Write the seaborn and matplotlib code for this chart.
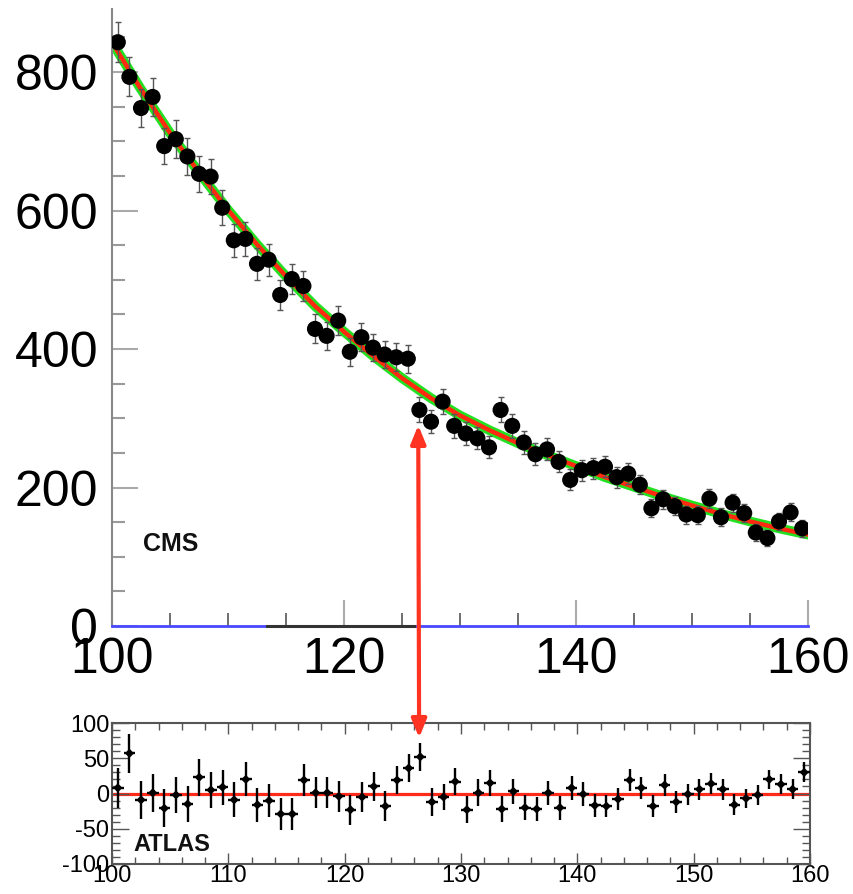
import matplotlib
matplotlib.use("Agg")
import matplotlib.pyplot as plt
from matplotlib.ticker import MultipleLocator, FixedLocator
from matplotlib.patches import ConnectionPatch
import seaborn as sns
import numpy as np

# ---------------- data ----------------
mass = [100.5 + i for i in range(60)]  # bin centres (1 GeV bins)

cms_counts = [843, 793, 748, 764, 693, 703, 678, 653, 649, 604,
              557, 559, 523, 529, 478, 501, 491, 429, 419, 441,
              396, 417, 402, 392, 388, 386, 312, 295, 324, 289,
              278, 271, 258, 312, 289, 265, 248, 255, 237, 211,
              225, 228, 230, 215, 220, 204, 170, 183, 173, 161,
              160, 184, 157, 178, 163, 135, 127, 151, 164, 141]
cms_err = [29, 28, 27, 28, 26, 27, 26, 26, 25, 25,
           24, 24, 23, 23, 22, 22, 22, 21, 20, 21,
           20, 20, 20, 20, 20, 20, 18, 17, 18, 17,
           17, 16, 16, 18, 17, 16, 16, 16, 15, 15,
           15, 15, 15, 15, 15, 14, 13, 14, 13, 13,
           13, 14, 13, 13, 13, 12, 11, 12, 13, 12]

fit_x = [100, 102.5, 105, 107.5, 110, 112.5, 115, 117.5, 120, 122.5,
         125, 127.5, 130, 132.5, 135, 137.5, 140, 142.5, 145, 147.5,
         150, 152.5, 155, 157.5, 160]
fit_y = [843, 775, 712, 655, 601, 551, 505, 462, 425, 390,
         358, 329, 304, 283, 264, 247, 231, 215, 201, 187,
         174, 162, 151, 141, 132]

atlas_res = [8, 57, -9, 1, -21, -2, -15, 23, 5, 9,
             -9, 20, -16, -10, -29, -29, 19, 1, 1, -4,
             -23, -5, 10, -18, 19, 36, 52, -12, -5, 17,
             -23, 1, 15, -22, 3, -20, -22, 1, -20, 8,
             -1, -17, -18, -8, 19, 8, -18, 12, -12, -1,
             6, 14, 6, -16, -7, -2, 20, 13, 6, 30]
atlas_err = [28, 28, 27, 27, 27, 26, 26, 26, 25, 25,
             25, 24, 24, 24, 23, 23, 23, 22, 22, 22,
             21, 21, 21, 21, 20, 20, 20, 20, 19, 19,
             19, 19, 18, 18, 18, 18, 17, 17, 17, 17,
             17, 16, 16, 16, 16, 16, 16, 15, 15, 15,
             15, 15, 15, 15, 14, 14, 14, 14, 14, 14]

top_xticks = [100, 120, 140, 160]
top_yticks = [0, 200, 400, 600, 800]
bot_xticks = [100, 110, 120, 130, 140, 150, 160]
bot_yticks = [-100, -50, 0, 50, 100]
dark_seg_x = [113.4, 126.0]
dark_seg_y = [0, 0]
higgs_mass = 126.4

# ---------------- figure ----------------
plt.rcParams['font.family'] = ['Liberation Sans', 'DejaVu Sans']
W, H = 854, 894
fig = plt.figure(figsize=(W / 100, H / 100), dpi=100)
ax1 = fig.add_axes([112 / W, 1 - 626 / H, (808 - 112) / W, (626 - 9) / H])
ax2 = fig.add_axes([112 / W, 1 - 864 / H, (810 - 112) / W, (864 - 723) / H])

# ---- top panel (CMS) ----
sns.lineplot(x=fit_x, y=fit_y, ax=ax1, color='#22e022', lw=7.0, zorder=2)
sns.lineplot(x=fit_x, y=fit_y, ax=ax1, color='#ff2a10', lw=3.2, zorder=2.5)
ax1.errorbar(mass, cms_counts, yerr=cms_err, fmt='none', ecolor='#555555',
             elinewidth=1.0, capsize=2.5, capthick=1.0, zorder=3)
sns.scatterplot(x=mass, y=cms_counts, ax=ax1, s=135, color='black',
                edgecolor='none', zorder=4)
sns.lineplot(x=dark_seg_x, y=dark_seg_y, ax=ax1, color='#333333', lw=2.2,
             zorder=6, clip_on=False)

ax1.set_xlim(100, 160)
ax1.set_ylim(0, 891)
for s in ['top', 'right']:
    ax1.spines[s].set_visible(False)
ax1.spines['left'].set_color('#888888')
ax1.spines['left'].set_linewidth(1.5)
ax1.spines['bottom'].set_color('#4848ff')
ax1.spines['bottom'].set_linewidth(2.0)
ax1.spines['bottom'].set_zorder(5)

ax1.xaxis.set_major_locator(FixedLocator(top_xticks))
ax1.xaxis.set_minor_locator(MultipleLocator(5))
ax1.yaxis.set_major_locator(FixedLocator(top_yticks))
ax1.yaxis.set_minor_locator(MultipleLocator(50))
ax1.set_xticklabels([str(t) for t in top_xticks])
ax1.set_yticklabels([str(t) for t in top_yticks])
ax1.tick_params(axis='both', which='major', direction='in', length=19,
                width=1.5, color='#aaaaaa', labelsize=36, pad=8)
ax1.tick_params(axis='x', which='minor', direction='in', length=9.5,
                width=1.2, color='#555555')
ax1.tick_params(axis='y', which='minor', direction='in', length=9.5,
                width=1.5, color='#999999')
ax1.tick_params(axis='y', which='major', pad=10)
ax1.set_xlabel('')
ax1.set_ylabel('')
ax1.text(102.7, 118, 'CMS', fontsize=18, fontweight='bold', ha='left',
         va='center', color='#111111')

# ---- bottom panel (ATLAS) ----
ax2.axhline(0, color='#ff2a1a', lw=2.3, zorder=1)
ax2.errorbar(mass, atlas_res, xerr=0.5, yerr=atlas_err, fmt='none',
             ecolor='black', elinewidth=1.7, zorder=3)
sns.scatterplot(x=mass, y=atlas_res, ax=ax2, marker='D', s=22,
                color='black', edgecolor='none', zorder=4)
ax2.set_xlim(100, 160)
ax2.set_ylim(-100, 100)
for s in ax2.spines.values():
    s.set_color('#555555')
    s.set_linewidth(1.5)
ax2.xaxis.set_major_locator(FixedLocator(bot_xticks))
ax2.xaxis.set_minor_locator(MultipleLocator(2))
ax2.yaxis.set_major_locator(FixedLocator(bot_yticks))
ax2.yaxis.set_minor_locator(MultipleLocator(10))
ax2.set_xticklabels([str(t) for t in bot_xticks])
ax2.set_yticklabels([str(t) for t in bot_yticks])
ax2.tick_params(axis='both', which='both', direction='in', top=True,
                right=True, color='#555555', width=1.0)
ax2.tick_params(axis='x', which='major', length=8, labelsize=17, pad=1)
ax2.tick_params(axis='x', which='minor', length=5)
ax2.tick_params(axis='y', which='major', length=12, labelsize=17, pad=2)
ax2.tick_params(axis='y', which='minor', length=6)
ax2.set_xlabel('')
ax2.set_ylabel('')
ax2.text(101.8, -73, 'ATLAS', fontsize=17, fontweight='bold', ha='left',
         va='center', color='#111111')

# ---- connecting arrow ----
arrow = ConnectionPatch(xyA=(higgs_mass, 290), coordsA='data', axesA=ax1,
                        xyB=(higgs_mass, 79), coordsB='data', axesB=ax2,
                        arrowstyle='<|-|>,head_length=1.1,head_width=0.45',
                        color='#ff3322', lw=3, shrinkA=0, shrinkB=0,
                        mutation_scale=10, zorder=10)
fig.add_artist(arrow)

fig.savefig('out.png', dpi=100)
